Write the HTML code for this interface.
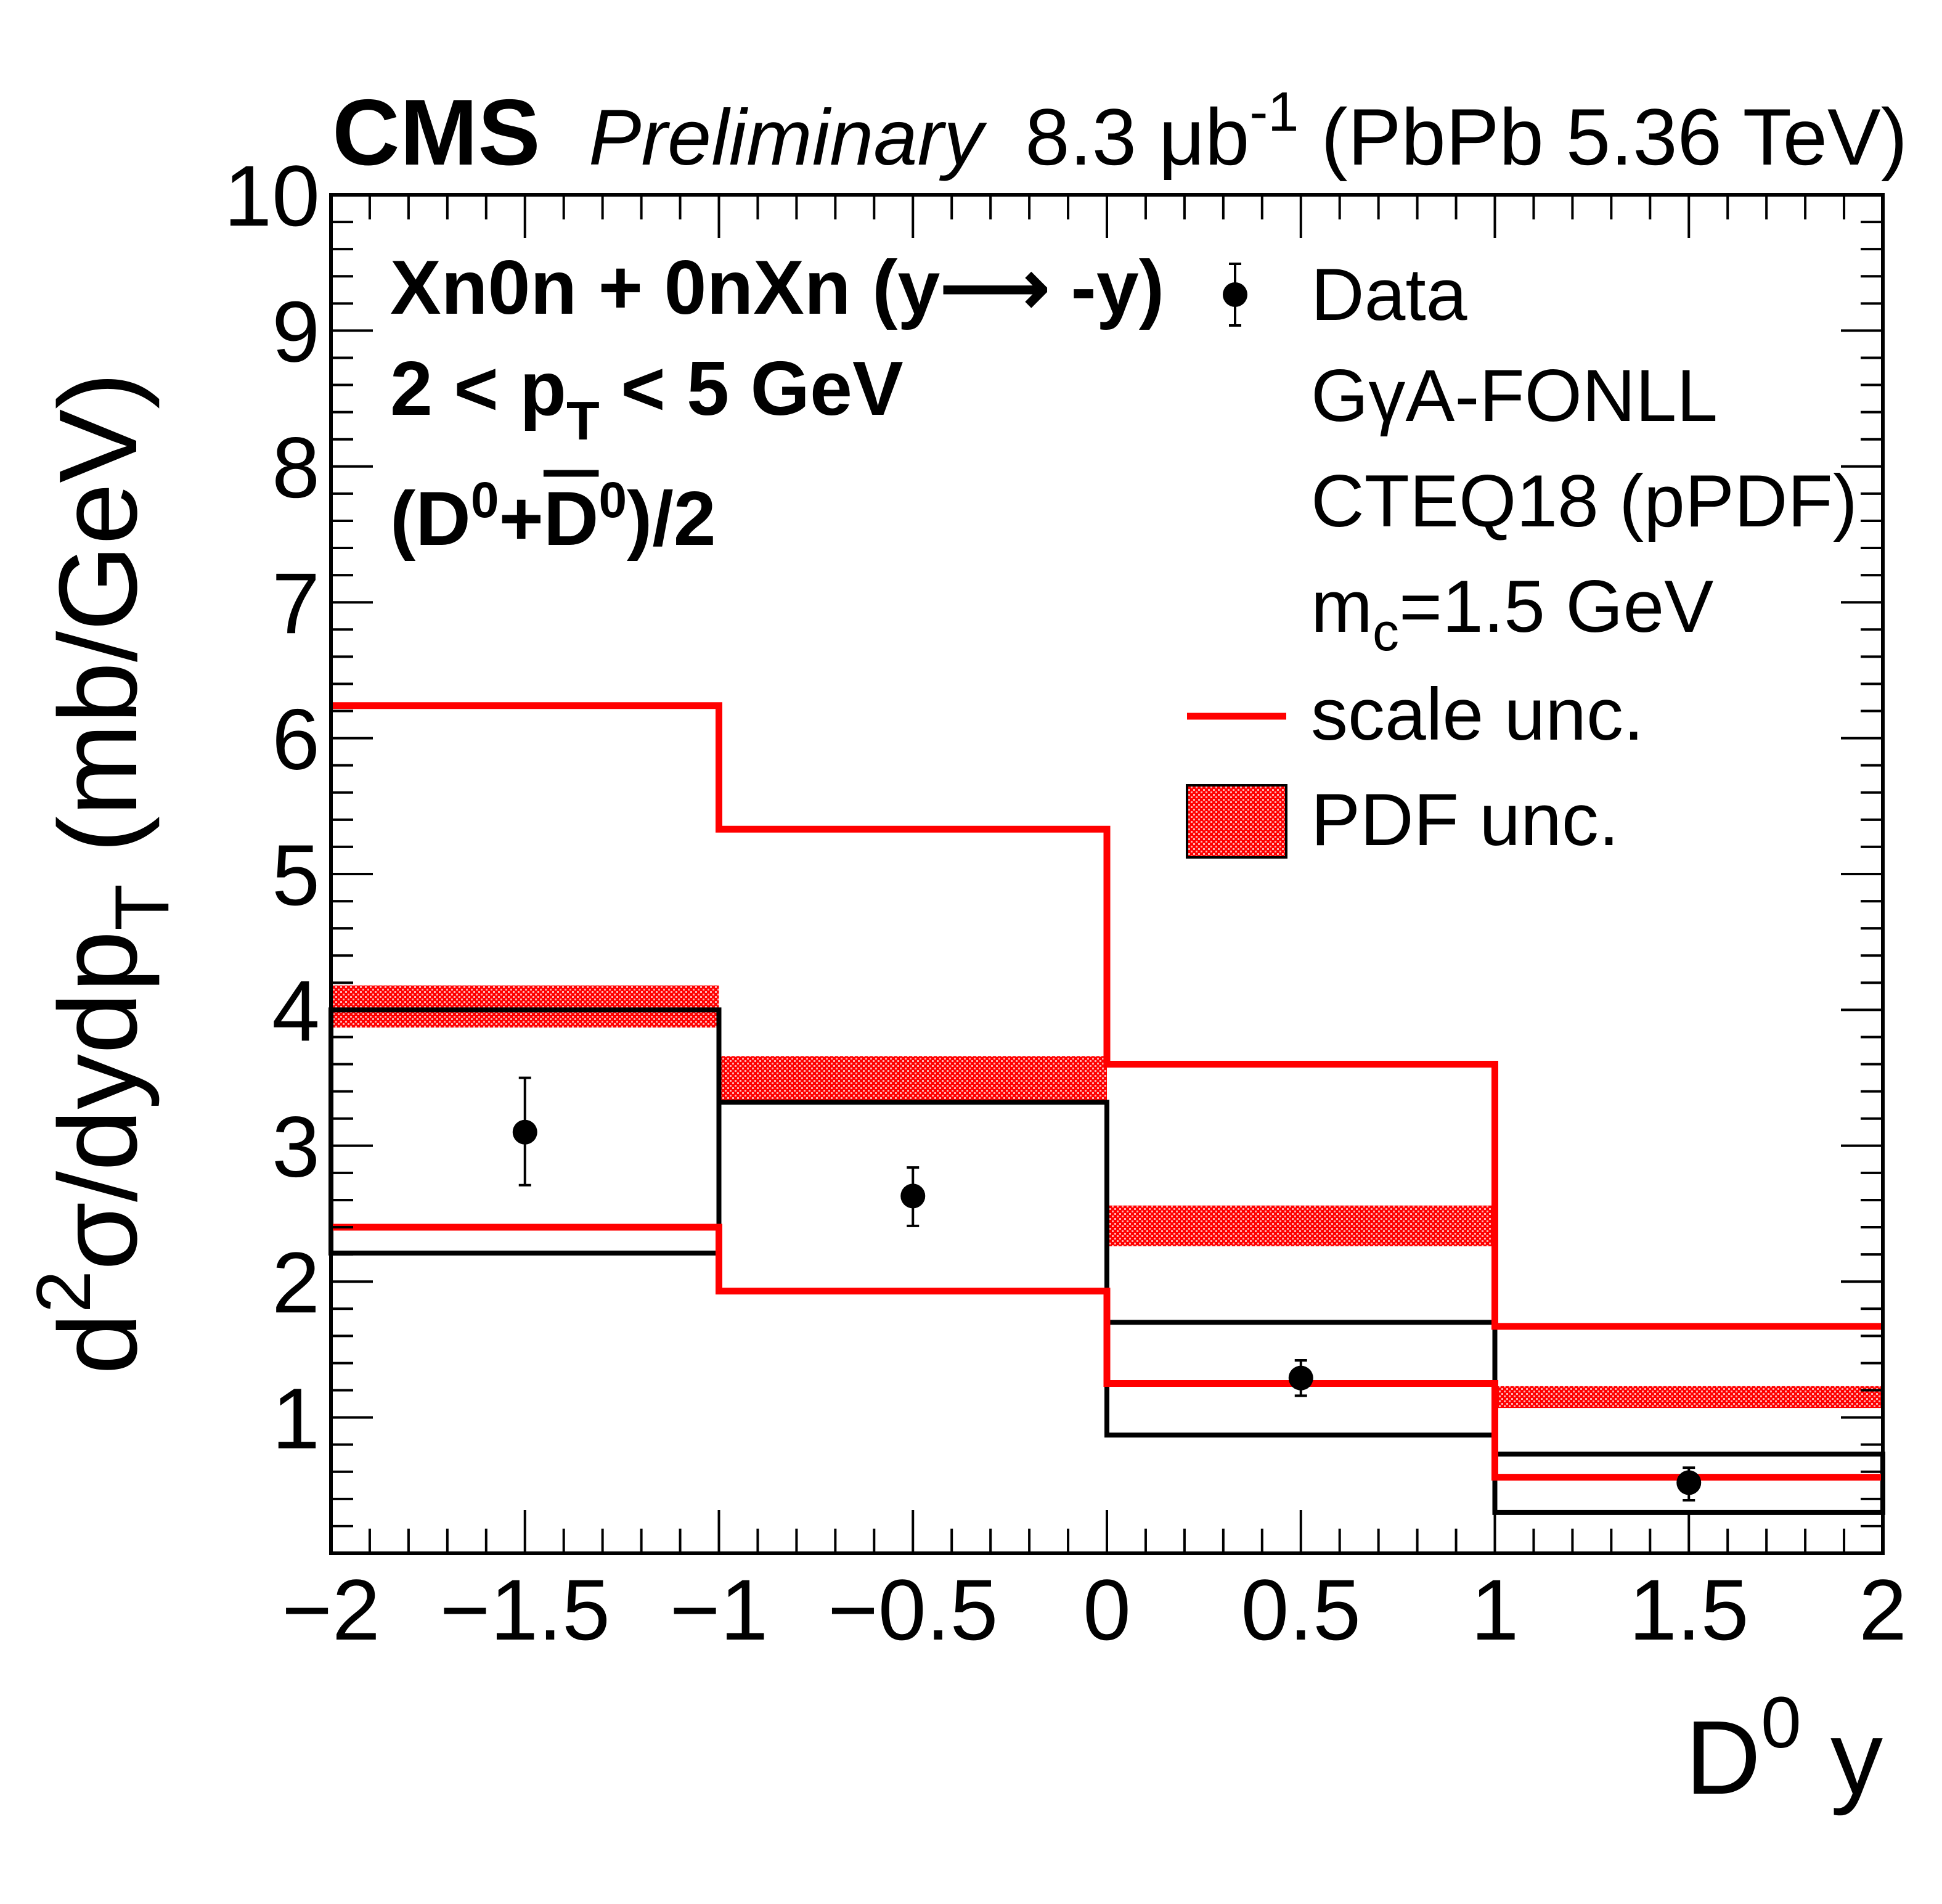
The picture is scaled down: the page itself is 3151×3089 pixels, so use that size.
<!DOCTYPE html>
<html><head><meta charset="utf-8"><style>
html,body{margin:0;padding:0;background:#fff;}
svg{display:block;font-family:"Liberation Sans",Arial,sans-serif;}
</style></head><body>
<svg id="chart" width="3151" height="3089" viewBox="0 0 3151 3089" xmlns="http://www.w3.org/2000/svg">
<defs>
<pattern id="hatch" width="8" height="8" patternUnits="userSpaceOnUse">
<rect width="8" height="8" fill="#ff0000"/>
<rect x="0" y="0" width="3" height="3" fill="#ffb0b0"/>
<rect x="4" y="4" width="3" height="3" fill="#ffb0b0"/>
</pattern>
</defs>
<g id="plot"></g>
<g id="axes"></g>
<text x="539" y="267" font-size="152" font-weight="bold">CMS</text>
<text x="955" y="267" font-size="128" font-style="italic">Preliminary</text>
<text x="3095" y="267" font-size="130" text-anchor="end">8.3  μb<tspan dy="-55" font-size="90">-1</tspan><tspan dy="55"> (PbPb 5.36 TeV)</tspan></text>
<g font-weight="bold" font-size="124">
<text x="633" y="509">Xn0n + 0nXn (y<tspan font-size="124">⟶</tspan> -y)</text>
<text x="633" y="673">2 &lt; p<tspan dy="40" font-size="88">T</tspan><tspan dy="-40"> &lt; 5 GeV</tspan></text>
<text x="633" y="884">(D<tspan dy="-45" font-size="82">0</tspan><tspan dy="45">+</tspan><tspan text-decoration="overline">D</tspan><tspan dy="-45" font-size="82">0</tspan><tspan dy="45">)/2</tspan></text>
</g>
<g id="legend" font-size="120">
<line x1="2004" y1="428" x2="2004" y2="528" stroke="#000" stroke-width="4"/>
<line x1="1994" y1="428" x2="2014" y2="428" stroke="#000" stroke-width="4"/>
<line x1="1994" y1="528" x2="2014" y2="528" stroke="#000" stroke-width="4"/>
<circle cx="2004" cy="478" r="20" fill="#000"/>
<text x="2127" y="519">Data</text>
<text x="2127" y="683">GγA-FONLL</text>
<text x="2127" y="854">CTEQ18 (pPDF)</text>
<text x="2127" y="1025">m<tspan dy="30" font-size="86">c</tspan><tspan dy="-30">=1.5 GeV</tspan></text>
<line x1="1926" y1="1162" x2="2087" y2="1162" stroke="#ff0000" stroke-width="11"/>
<text x="2127" y="1200">scale unc.</text>
<rect x="1926" y="1274" width="161" height="117" fill="url(#hatch)" stroke="#000" stroke-width="4"/>
<text x="2127" y="1371">PDF unc.</text>
</g>
<text transform="translate(221,1417) rotate(-90)" text-anchor="middle" font-size="180">d<tspan dy="-75" font-size="124">2</tspan><tspan dy="75">σ/dydp</tspan><tspan dy="52" font-size="124">T</tspan><tspan dy="-52">  (mb/GeV)</tspan></text>
<text x="3055" y="2910" text-anchor="end" font-size="170">D<tspan dy="-75" font-size="118">0</tspan><tspan dy="75"> y</tspan></text>
</svg>
<script>
const binEdges = [-2, -1, 0, 1, 2];
const scaleUp = [6.24, 5.33, 3.60, 1.67];
const scaleLow = [2.40, 1.93, 1.25, 0.56];
const boxTop = [4.00, 3.32, 1.70, 0.73];
const boxBottom = [2.21, 1.93, 0.87, 0.30];
const pdfUp = [4.18, 3.66, 2.56, 1.23];
const pdfLow = [3.87, 3.32, 2.26, 1.07];
const dataX = [-1.5, -0.5, 0.5, 1.5];
const dataY = [3.10, 2.63, 1.29, 0.52];
const errUp = [3.50, 2.84, 1.42, 0.63];
const errLow = [2.71, 2.41, 1.16, 0.39];
const xTicks = [-2, -1.5, -1, -0.5, 0, 0.5, 1, 1.5, 2];
const xTickLabels = ["\u22122", "\u22121.5", "\u22121", "\u22120.5", "0", "0.5", "1", "1.5", "2"];
const yTicks = [1, 2, 3, 4, 5, 6, 7, 8, 9, 10];
const yTickLabels = ["1", "2", "3", "4", "5", "6", "7", "8", "9", "10"];

const L = 537, R = 3055, T = 316, B = 2520;
const xMin = -2, xMax = 2, yMin = 0, yMax = 10;
const X = v => L + (v - xMin) / (xMax - xMin) * (R - L);
const Y = v => B - (v - yMin) / (yMax - yMin) * (B - T);
const NS = "http://www.w3.org/2000/svg";
const plot = document.getElementById('plot');
const axes = document.getElementById('axes');
function mk(tag, attrs, parent) {
  const e = document.createElementNS(NS, tag);
  for (const k in attrs) e.setAttribute(k, attrs[k]);
  parent.appendChild(e);
  return e;
}
for (let i = 0; i < pdfUp.length; i++) {
  const r = mk('rect', {x: X(binEdges[i]), y: Y(pdfUp[i]), width: X(binEdges[i+1]) - X(binEdges[i]), height: Y(pdfLow[i]) - Y(pdfUp[i]), fill: 'url(#hatch)'}, plot);
  
  
}
for (let i = 0; i < boxTop.length; i++) {
  const r = mk('rect', {x: X(binEdges[i]), y: Y(boxTop[i]), width: X(binEdges[i+1]) - X(binEdges[i]), height: Y(boxBottom[i]) - Y(boxTop[i]), fill: 'none', stroke: '#000', 'stroke-width': 8}, plot);
  
  
}
function stepPath(vals) {
  let d = 'M' + X(binEdges[0]) + ',' + Y(vals[0]);
  for (let i = 0; i < vals.length; i++) {
    if (i > 0) d += ' L' + X(binEdges[i]) + ',' + Y(vals[i]);
    d += ' L' + X(binEdges[i+1]) + ',' + Y(vals[i]);
  }
  return d;
}
const up = mk('path', {d: stepPath(scaleUp), fill: 'none', stroke: '#ff0000', 'stroke-width': 11}, plot);


const lo = mk('path', {d: stepPath(scaleLow), fill: 'none', stroke: '#ff0000', 'stroke-width': 11}, plot);


for (let i = 0; i < dataX.length; i++) {
  const cx = X(dataX[i]);
  const l = mk('line', {x1: cx, x2: cx, y1: Y(errUp[i]), y2: Y(errLow[i]), stroke: '#000', 'stroke-width': 4}, plot);
  
  
  const c1 = mk('line', {x1: cx-10, x2: cx+10, y1: Y(errUp[i]), y2: Y(errUp[i]), stroke: '#000', 'stroke-width': 4}, plot);
  
  
  const c2 = mk('line', {x1: cx-10, x2: cx+10, y1: Y(errLow[i]), y2: Y(errLow[i]), stroke: '#000', 'stroke-width': 4}, plot);
  
  
  const p = mk('circle', {cx: cx, cy: Y(dataY[i]), r: 20, fill: '#000'}, plot);
  
  
}
const fr = mk('rect', {x: L, y: T, width: R - L, height: B - T, fill: 'none', stroke: '#000', 'stroke-width': 6}, axes);


for (let k = 0; k <= 40; k++) {
  const v = xMin + k * 0.1;
  const major = k % 5 === 0;
  const len = major ? 70 : 40;
  const x = X(v);
  const t1 = mk('line', {x1: x, x2: x, y1: B, y2: B - len, stroke: '#000', 'stroke-width': 4}, axes);
  
  
  const t2 = mk('line', {x1: x, x2: x, y1: T, y2: T + len, stroke: '#000', 'stroke-width': 4}, axes);
  
  
}
for (let i = 0; i < xTicks.length; i++) {
  const t = mk('text', {x: X(xTicks[i]), y: 2660, 'text-anchor': 'middle', 'font-size': 140}, axes);
  t.textContent = xTickLabels[i];
  
  
}
for (let k = 1; k <= 50; k++) {
  const v = k * 0.2;
  const major = k % 5 === 0;
  const len = major ? 68 : 36;
  const y = Y(v);
  const t1 = mk('line', {x1: L, x2: L + len, y1: y, y2: y, stroke: '#000', 'stroke-width': 4}, axes);
  
  
  const t2 = mk('line', {x1: R, x2: R - len, y1: y, y2: y, stroke: '#000', 'stroke-width': 4}, axes);
  
  
}
for (let i = 0; i < yTicks.length; i++) {
  const t = mk('text', {x: 519, y: Y(yTicks[i]) + 50, 'text-anchor': 'end', 'font-size': 140}, axes);
  t.textContent = yTickLabels[i];
  
  
}
</script>
</body></html>
